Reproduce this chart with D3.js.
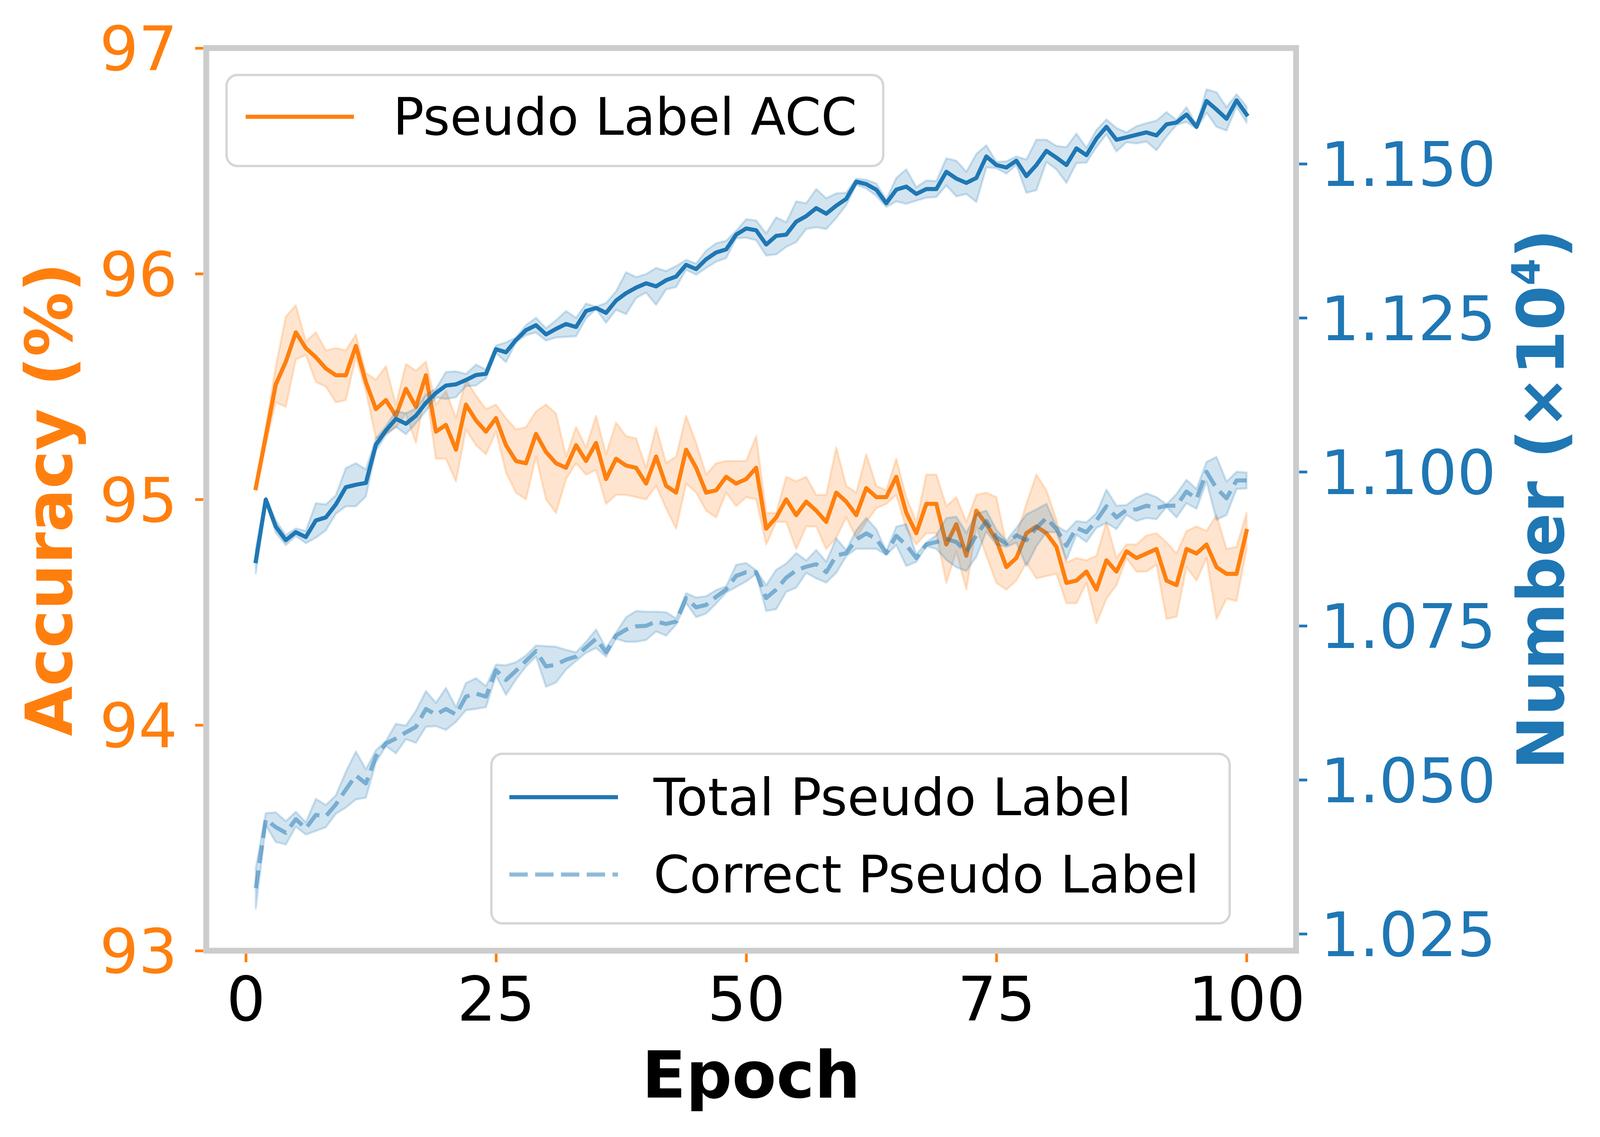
<!DOCTYPE html>
<html>
<head>
<meta charset="utf-8">
<script src="https://cdn.jsdelivr.net/npm/d3@7"></script>
<style>
  body { margin: 0; background: #fff; }
  svg { display: block; font-family: 'DejaVu Sans', sans-serif; }
</style>
</head>
<body>
<div class="inner-container"></div>
<script>
// values, epochs 1..100
const epochs = d3.range(1, 101)

const accMean = [
  95.05, 95.28, 95.51, 95.61, 95.74, 95.67, 95.63, 95.58, 95.55, 95.55,
  95.68, 95.52, 95.40, 95.44, 95.37, 95.49, 95.41, 95.55, 95.30, 95.33,
  95.22, 95.42, 95.35, 95.30, 95.36, 95.24, 95.17, 95.16, 95.29, 95.21,
  95.16, 95.14, 95.24, 95.17, 95.25, 95.09, 95.18, 95.15, 95.14, 95.07,
  95.19, 95.06, 95.03, 95.22, 95.14, 95.03, 95.04, 95.10, 95.07, 95.09,
  95.14, 94.87, 94.92, 95.00, 94.93, 94.99, 94.95, 94.90, 95.03, 94.99,
  94.93, 95.05, 95.01, 95.01, 95.10, 94.94, 94.85, 94.98, 94.98, 94.80,
  94.89, 94.75, 94.95, 94.89, 94.82, 94.70, 94.74, 94.85, 94.88, 94.85,
  94.79, 94.63, 94.64, 94.68, 94.60, 94.73, 94.68, 94.77, 94.74, 94.76,
  94.78, 94.64, 94.62, 94.78, 94.76, 94.80, 94.70, 94.67, 94.67, 94.86
]
const accErr = [
  0.01, 0.04, 0.08, 0.20, 0.12, 0.03, 0.11, 0.08, 0.12, 0.11,
  0.05, 0.04, 0.13, 0.15, 0.05, 0.11, 0.16, 0.06, 0.12, 0.15,
  0.14, 0.11, 0.11, 0.10, 0.06, 0.12, 0.14, 0.16, 0.10, 0.21,
  0.22, 0.05, 0.08, 0.06, 0.12, 0.11, 0.16, 0.13, 0.13, 0.07,
  0.13, 0.10, 0.16, 0.15, 0.11, 0.08, 0.12, 0.07, 0.10, 0.08,
  0.14, 0.07, 0.02, 0.10, 0.15, 0.11, 0.07, 0.12, 0.20, 0.07,
  0.10, 0.15, 0.05, 0.03, 0.08, 0.07, 0.05, 0.13, 0.13, 0.17,
  0.12, 0.15, 0.07, 0.14, 0.19, 0.10, 0.10, 0.13, 0.23, 0.19,
  0.12, 0.09, 0.10, 0.05, 0.15, 0.17, 0.06, 0.03, 0.06, 0.08,
  0.07, 0.17, 0.14, 0.08, 0.12, 0.06, 0.23, 0.11, 0.12, 0.08
]

// pseudo label counts, in units of 1e4
const totalMean = [
  1.0855, 1.0955, 1.0911, 1.0889, 1.0902, 1.0894, 1.0921, 1.0926, 1.0947, 1.0975,
  1.0979, 1.0982, 1.1044, 1.1067, 1.1086, 1.1078, 1.1091, 1.1112, 1.1128, 1.1140,
  1.1142, 1.1149, 1.1157, 1.1159, 1.1199, 1.1194, 1.1214, 1.1230, 1.1238, 1.1223,
  1.1232, 1.1240, 1.1235, 1.1261, 1.1266, 1.1258, 1.1278, 1.1290, 1.1299, 1.1306,
  1.1301, 1.1311, 1.1317, 1.1336, 1.1329, 1.1345, 1.1356, 1.1361, 1.1385, 1.1395,
  1.1392, 1.1369, 1.1383, 1.1385, 1.1406, 1.1415, 1.1428, 1.1419, 1.1432, 1.1443,
  1.1471, 1.1467, 1.1458, 1.1436, 1.1458, 1.1463, 1.1451, 1.1459, 1.1459, 1.1487,
  1.1476, 1.1469, 1.1477, 1.1512, 1.1498, 1.1494, 1.1505, 1.1480, 1.1498, 1.1521,
  1.1510, 1.1498, 1.1525, 1.1514, 1.1541, 1.1560, 1.1539, 1.1543, 1.1547, 1.1551,
  1.1546, 1.1564, 1.1567, 1.1580, 1.1560, 1.1602, 1.1588, 1.1573, 1.1603, 1.1580
]
const totalErr = [
  0.0020, 0.0003, 0.0010, 0.0008, 0.0006, 0.0010, 0.0028, 0.0021, 0.0015, 0.0031,
  0.0035, 0.0022, 0.0010, 0.0007, 0.0013, 0.0017, 0.0012, 0.0013, 0.0007, 0.0022,
  0.0021, 0.0010, 0.0017, 0.0007, 0.0006, 0.0016, 0.0004, 0.0008, 0.0012, 0.0010,
  0.0014, 0.0021, 0.0015, 0.0012, 0.0002, 0.0016, 0.0015, 0.0034, 0.0017, 0.0015,
  0.0030, 0.0015, 0.0017, 0.0008, 0.0009, 0.0014, 0.0015, 0.0014, 0.0006, 0.0015,
  0.0016, 0.0018, 0.0030, 0.0020, 0.0033, 0.0021, 0.0031, 0.0025, 0.0020, 0.0010,
  0.0005, 0.0007, 0.0010, 0.0006, 0.0019, 0.0028, 0.0011, 0.0014, 0.0013, 0.0022,
  0.0029, 0.0018, 0.0039, 0.0018, 0.0005, 0.0010, 0.0007, 0.0027, 0.0041, 0.0018,
  0.0019, 0.0029, 0.0024, 0.0012, 0.0014, 0.0012, 0.0019, 0.0008, 0.0014, 0.0015,
  0.0024, 0.0020, 0.0004, 0.0012, 0.0003, 0.0019, 0.0028, 0.0019, 0.0010, 0.0013
]

const correctMean = [
  1.0324, 1.0436, 1.0423, 1.0414, 1.0436, 1.0421, 1.0443, 1.0441, 1.0460, 1.0484,
  1.0507, 1.0494, 1.0538, 1.0559, 1.0567, 1.0577, 1.0586, 1.0615, 1.0606, 1.0615,
  1.0606, 1.0635, 1.0640, 1.0635, 1.0678, 1.0662, 1.0677, 1.0693, 1.0709, 1.0684,
  1.0687, 1.0695, 1.0700, 1.0715, 1.0729, 1.0707, 1.0734, 1.0744, 1.0749, 1.0750,
  1.0757, 1.0753, 1.0757, 1.0795, 1.0780, 1.0784, 1.0797, 1.0809, 1.0831, 1.0837,
  1.0837, 1.0795, 1.0809, 1.0828, 1.0840, 1.0846, 1.0850, 1.0837, 1.0864, 1.0868,
  1.0890, 1.0900, 1.0891, 1.0868, 1.0896, 1.0881, 1.0860, 1.0882, 1.0886, 1.0891,
  1.0886, 1.0870, 1.0897, 1.0920, 1.0894, 1.0883, 1.0897, 1.0889, 1.0909, 1.0925,
  1.0907, 1.0880, 1.0909, 1.0902, 1.0921, 1.0944, 1.0926, 1.0938, 1.0939, 1.0945,
  1.0941, 1.0945, 1.0945, 1.0968, 1.0956, 1.1000, 1.0973, 1.0957, 1.0986, 1.0986
]
const correctErr = [
  0.0033, 0.0010, 0.0024, 0.0019, 0.0012, 0.0010, 0.0026, 0.0018, 0.0015, 0.0029,
  0.0039, 0.0023, 0.0010, 0.0004, 0.0024, 0.0011, 0.0026, 0.0029, 0.0019, 0.0034,
  0.0012, 0.0022, 0.0025, 0.0017, 0.0009, 0.0024, 0.0014, 0.0009, 0.0009, 0.0033,
  0.0029, 0.0016, 0.0007, 0.0009, 0.0015, 0.0007, 0.0005, 0.0020, 0.0025, 0.0023,
  0.0016, 0.0019, 0.0005, 0.0008, 0.0016, 0.0014, 0.0011, 0.0005, 0.0018, 0.0015,
  0.0003, 0.0021, 0.0032, 0.0023, 0.0028, 0.0010, 0.0023, 0.0017, 0.0028, 0.0005,
  0.0015, 0.0025, 0.0016, 0.0003, 0.0015, 0.0034, 0.0006, 0.0003, 0.0011, 0.0034,
  0.0041, 0.0031, 0.0035, 0.0017, 0.0012, 0.0005, 0.0012, 0.0042, 0.0030, 0.0023,
  0.0005, 0.0023, 0.0011, 0.0016, 0.0012, 0.0027, 0.0019, 0.0008, 0.0019, 0.0020,
  0.0018, 0.0002, 0.0019, 0.0019, 0.0016, 0.0016, 0.0051, 0.0027, 0.0014, 0.0013
]

const epochTicks = [0, 25, 50, 75, 100]
const accTicks = [93, 94, 95, 96, 97]
const numTicks = [1.025, 1.050, 1.075, 1.100, 1.125, 1.150]

const orange = '#ff7f0e'
const blue = '#1f77b4'

const toRows = (mean, err) => mean.map((m, i) => ({ e: epochs[i], m: m, s: err[i] }))

document.addEventListener('DOMContentLoaded', () => {
  const W = 4109, H = 2911
  const frame = { left: 528, right: 3318, top: 123, bottom: 2434 }
  const spineW = 15
  const lineW = 10.5

  const svg = d3.select('.inner-container')
    .append('svg')
    .attr('width', W)
    .attr('height', H)
    .attr('viewBox', [0, 0, W, H].join(' '))

  svg.append('rect')
    .attr('width', W)
    .attr('height', H)
    .attr('fill', '#fff')

  const x = d3.scaleLinear()
    .domain([-3.95, 104.95])
    .range([frame.left, frame.right])

  const yAcc = d3.scaleLinear()
    .domain([93, 97])
    .range([frame.bottom, frame.top])

  const yNum = d3.scaleLinear()
    .domain([1.02226, 1.16879])
    .range([frame.bottom, frame.top])

  const drawSeries = (rows, y, color, dashed) => {
    const area = d3.area()
      .x(d => x(d.e))
      .y0(d => y(d.m - d.s))
      .y1(d => y(d.m + d.s))

    const line = d3.line()
      .x(d => x(d.e))
      .y(d => y(d.m))

    svg.append('path')
      .attr('d', area(rows))
      .attr('fill', color)
      .attr('fill-opacity', 0.2)
      .attr('stroke', color)
      .attr('stroke-opacity', 0.2)
      .attr('stroke-width', 5.5)
      .attr('stroke-linejoin', 'round')

    const path = svg.append('path')
      .attr('d', line(rows))
      .attr('fill', 'none')
      .attr('stroke', color)
      .attr('stroke-width', lineW)
      .attr('stroke-linejoin', 'round')

    if (dashed) {
      path.attr('stroke-opacity', 0.5)
        .attr('stroke-dasharray', '46 19')
        .attr('stroke-linecap', 'butt')
    } else {
      path.attr('stroke-linecap', 'square')
    }
  }

  // left axis series first, right axis on top (twin axes order)
  drawSeries(toRows(accMean, accErr), yAcc, orange, false)
  drawSeries(toRows(totalMean, totalErr), yNum, blue, false)
  drawSeries(toRows(correctMean, correctErr), yNum, blue, true)

  // Axes

  const styleAxis = (g, tickColor, textColor) => {
    g.select('.domain').remove()
    g.selectAll('.tick line')
      .attr('stroke', tickColor)
      .attr('stroke-width', 7)
    g.selectAll('.tick text')
      .attr('fill', textColor)
      .attr('font-size', 157)
      .attr('font-family', "'DejaVu Sans', sans-serif")
  }

  svg.append('g')
    .attr('transform', 'translate(' + (frame.left - spineW / 2) + ',0)')
    .call(d3.axisLeft(yAcc)
      .tickValues(accTicks)
      .tickFormat(d3.format('d'))
      .tickSize(21)
      .tickPadding(45))
    .call(g => styleAxis(g, orange, orange))
    .call(g => g.selectAll('.tick text').attr('dy', '0.36em'))

  svg.append('g')
    .attr('transform', 'translate(' + (frame.right + spineW / 2) + ',0)')
    .call(d3.axisRight(yNum)
      .tickValues(numTicks)
      .tickFormat(d3.format('.3f'))
      .tickSize(21)
      .tickPadding(34))
    .call(g => styleAxis(g, blue, blue))
    .call(g => g.selectAll('.tick text').attr('dy', '0.36em'))

  svg.append('g')
    .attr('transform', 'translate(0,' + (frame.bottom + spineW / 2) + ')')
    .call(d3.axisBottom(x)
      .tickValues(epochTicks)
      .tickFormat(d3.format('d'))
      .tickSize(22)
      .tickPadding(38))
    .call(g => styleAxis(g, orange, '#000'))

  // Spines

  svg.append('rect')
    .attr('x', frame.left)
    .attr('y', frame.top)
    .attr('width', frame.right - frame.left)
    .attr('height', frame.bottom - frame.top)
    .attr('fill', 'none')
    .attr('stroke', '#cccccc')
    .attr('stroke-width', spineW)

  // Axis labels

  svg.append('text')
    .attr('x', (frame.left + frame.right) / 2)
    .attr('y', 2810)
    .attr('text-anchor', 'middle')
    .attr('font-size', 165)
    .attr('font-weight', 'bold')
    .attr('fill', '#000')
    .text('Epoch')

  svg.append('text')
    .attr('transform', 'translate(184,' + (frame.top + frame.bottom) / 2 + ') rotate(-90)')
    .attr('text-anchor', 'middle')
    .attr('font-size', 165)
    .attr('font-weight', 'bold')
    .attr('fill', orange)
    .text('Accuracy (%)')

  const numLabel = svg.append('text')
    .attr('transform', 'translate(4003,' + (frame.top + frame.bottom) / 2 + ') rotate(-90)')
    .attr('text-anchor', 'middle')
    .attr('font-size', 165)
    .attr('font-weight', 'bold')
    .attr('fill', blue)

  numLabel.append('tspan').text('Number (×10')
  numLabel.append('tspan')
    .attr('font-size', 100)
    .attr('dy', -62)
    .text('4')
  numLabel.append('tspan')
    .attr('dy', 62)
    .text(')')

  // Legends

  const legendBox = (bx, by, bw, bh) => {
    svg.append('rect')
      .attr('x', bx)
      .attr('y', by)
      .attr('width', bw)
      .attr('height', bh)
      .attr('rx', 28)
      .attr('fill', '#fff')
      .attr('fill-opacity', 0.8)
      .attr('stroke', '#d6d6d6')
      .attr('stroke-width', 6)
  }

  const legendItem = (lx1, lx2, ly, tx, label, color, dashed) => {
    const handle = svg.append('line')
      .attr('x1', lx1)
      .attr('x2', lx2)
      .attr('y1', ly)
      .attr('y2', ly)
      .attr('stroke', color)
      .attr('stroke-width', lineW)

    if (dashed) {
      handle.attr('stroke-opacity', 0.5).attr('stroke-dasharray', '47 19')
    }

    svg.append('text')
      .attr('x', tx)
      .attr('y', ly + 46)
      .attr('font-size', 132)
      .attr('fill', '#000')
      .text(label)
  }

  legendBox(580, 192, 1681, 233)
  legendItem(629, 906, 299, 1006, 'Pseudo Label ACC', orange, false)

  legendBox(1258, 1930, 1890, 434)
  legendItem(1304, 1582, 2041, 1673, 'Total Pseudo Label', blue, false)
  legendItem(1304, 1582, 2239, 1673, 'Correct Pseudo Label', blue, true)
})
</script>
</body>
</html>
